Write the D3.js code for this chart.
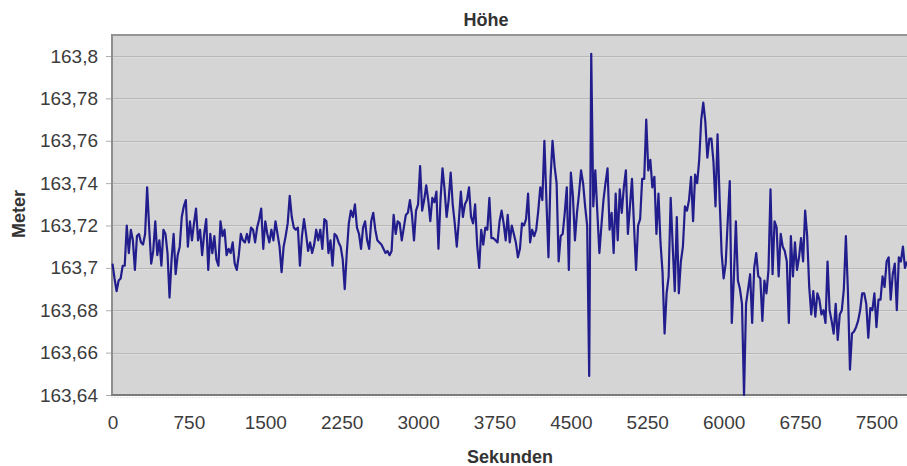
<!DOCTYPE html>
<html>
<head>
<meta charset="utf-8">
<script src="https://cdn.jsdelivr.net/npm/d3@7"></script>
<style>
  body { margin: 0; background: #fff; }
  svg { display: block; font-family: "Liberation Sans", Arial, sans-serif; }
</style>
</head>
<body>
<svg width="907" height="466"></svg>
<script>
const intervall = 20;
const hoehe = [
  163.702,163.695,163.689,163.694,163.695,163.701,163.701,163.720,163.707,163.718,
  163.713,163.699,163.715,163.716,163.712,163.711,163.716,163.738,163.719,163.702,
  163.708,163.722,163.706,163.713,163.701,163.718,163.716,163.707,163.686,163.704,
  163.716,163.697,163.706,163.710,163.724,163.729,163.732,163.710,163.722,163.713,
  163.721,163.728,163.713,163.718,163.706,163.716,163.723,163.699,163.716,163.707,
  163.715,163.704,163.701,163.722,163.715,163.718,163.706,163.709,163.707,163.712,
  163.702,163.699,163.706,163.716,163.713,
  163.712,163.716,163.712,163.719,163.718,163.712,163.719,163.723,163.728,163.709,
  163.722,163.716,163.712,163.718,163.713,163.722,163.716,163.710,163.698,163.710,
  163.715,163.721,163.734,163.724,163.719,163.718,163.719,163.701,163.715,163.723,
  163.716,163.708,163.712,163.707,163.711,163.718,163.713,163.718,163.709,163.723,
  163.722,163.707,163.713,163.701,163.716,163.715,163.712,163.710,163.704,163.690,
  163.707,163.721,163.727,163.724,163.730,163.719,163.716,163.709,163.719,163.722,
  163.713,163.709,163.722,163.726,163.718,
  163.713,163.712,163.711,163.709,163.707,163.708,163.706,163.708,163.725,163.716,
  163.722,163.721,163.713,163.719,163.725,163.726,163.732,163.725,163.713,163.727,
  163.730,163.748,163.727,163.732,163.739,163.732,163.722,163.733,163.731,163.736,
  163.709,163.732,163.747,163.737,163.724,163.732,163.745,163.730,163.721,163.710,
  163.722,163.736,163.724,163.730,163.732,163.738,163.724,163.721,163.730,163.711,
  163.700,163.718,163.711,163.719,163.718,163.733,163.714,163.714,163.713,163.712,
  163.722,163.727,163.721,163.713,163.725,
  163.712,163.720,163.716,163.712,163.705,163.709,163.721,163.720,163.723,163.735,
  163.712,163.718,163.715,163.718,163.727,163.738,163.732,163.760,163.732,163.705,
  163.742,163.760,163.748,163.740,163.703,163.715,163.716,163.726,163.738,163.699,
  163.745,163.734,163.713,163.726,163.735,163.746,163.740,163.729,163.720,163.649,
  163.801,163.729,163.746,163.726,163.707,163.720,163.732,163.740,163.747,163.718,
  163.726,163.707,163.735,163.713,163.737,163.726,163.738,163.746,163.716,163.729,
  163.742,163.720,163.699,163.720,163.723,
  163.742,163.742,163.770,163.746,163.751,163.738,163.743,163.716,163.735,163.712,
  163.698,163.669,163.688,163.696,163.733,163.710,163.689,163.724,163.688,163.703,
  163.710,163.729,163.727,163.732,163.743,163.722,163.744,163.740,163.751,163.770,
  163.778,163.769,163.752,163.761,163.761,163.750,163.729,163.763,163.733,163.707,
  163.695,163.702,163.722,163.741,163.674,163.695,163.722,163.694,163.690,163.683,
  163.640,163.683,163.690,163.697,163.674,163.700,163.707,163.696,163.695,163.675,
  163.694,163.688,163.699,163.737,
  163.697,163.722,163.719,163.696,163.716,163.710,163.708,163.703,163.674,163.715,
  163.696,163.712,163.699,163.705,163.714,163.703,163.727,163.715,163.691,163.678,
  163.689,163.677,163.688,163.685,163.678,163.680,163.674,163.703,163.680,163.675,
  163.669,163.683,163.666,163.678,163.680,163.690,163.715,163.689,163.652,163.669,
  163.670,163.672,163.675,163.680,163.688,163.688,163.683,163.667,163.681,163.680,
  163.688,163.672,163.685,163.685,163.696,163.691,163.703,163.705,163.685,163.697,
  163.702,163.680,163.705,163.703,163.710,163.700,163.703
];
const xTicks = [0, 750, 1500, 2250, 3000, 3750, 4500, 5250, 6000, 6750, 7500];
const yTicks = [163.64, 163.66, 163.68, 163.7, 163.72, 163.74, 163.76, 163.78, 163.8];
const titel = 'Höhe';
const xTitel = 'Sekunden';
const yTitel = 'Meter';

const svg = d3.select('svg');
const plot = { left: 111, right: 907, top: 34, bottom: 395 };

const x = d3.scaleLinear().domain([0, 7800]).range([112.5, 907]);
const y = d3.scaleLinear().domain([163.64, 163.81]).range([plot.bottom, plot.top + 0.8]);
const fmt = d => String(+d.toFixed(2)).replace('.', ',');

// Hintergrund der Zeichenfläche
svg.append('rect')
  .attr('x', plot.left).attr('y', plot.top)
  .attr('width', plot.right - plot.left).attr('height', plot.bottom - plot.top)
  .attr('fill', '#d5d5d5');

// Gitterlinien
svg.append('g').selectAll('line')
  .data(yTicks.slice(1))
  .join('line')
  .attr('x1', plot.left).attr('x2', plot.right)
  .attr('y1', d => Math.round(y(d)) + 0.5).attr('y2', d => Math.round(y(d)) + 0.5)
  .attr('stroke', '#b8b8b8');
svg.append('g').selectAll('line')
  .data(yTicks.slice(1))
  .join('line')
  .attr('x1', plot.left).attr('x2', plot.right)
  .attr('y1', d => Math.round(y(d)) + 1.5).attr('y2', d => Math.round(y(d)) + 1.5)
  .attr('stroke', '#dedede');

// Rahmen
svg.append('line').attr('x1', plot.left).attr('x2', plot.right)
  .attr('y1', plot.top + 1).attr('y2', plot.top + 1)
  .attr('stroke', '#959595').attr('stroke-width', 2);
svg.append('line').attr('x1', plot.left + 1).attr('x2', plot.left + 1)
  .attr('y1', plot.top).attr('y2', plot.bottom)
  .attr('stroke', '#8e8e8e').attr('stroke-width', 2);
svg.append('line').attr('x1', plot.left).attr('x2', plot.right)
  .attr('y1', plot.bottom).attr('y2', plot.bottom)
  .attr('stroke', '#7b7b7b').attr('stroke-width', 2);
svg.append('line').attr('x1', plot.left).attr('x2', plot.right)
  .attr('y1', plot.bottom + 2.5).attr('y2', plot.bottom + 2.5)
  .attr('stroke', '#e4e4e4').attr('stroke-dasharray', '2,1');

// Datenlinie
svg.append('clipPath').attr('id', 'clip')
  .append('rect')
  .attr('x', plot.left).attr('y', plot.top - 2)
  .attr('width', plot.right - plot.left).attr('height', plot.bottom - plot.top + 4);

const line = d3.line()
  .x((d, i) => x(i * intervall))
  .y(d => y(d));

svg.append('path')
  .datum(hoehe)
  .attr('clip-path', 'url(#clip)')
  .attr('d', line)
  .attr('fill', 'none')
  .attr('stroke', '#221d8c')
  .attr('stroke-width', 2.2)
  .attr('stroke-linejoin', 'round');

// Achsen
const yAxis = svg.append('g')
  .attr('transform', `translate(${plot.left},0)`)
  .call(d3.axisLeft(y).tickValues(yTicks).tickFormat(fmt).tickSize(5).tickPadding(8));
yAxis.select('.domain').remove();
yAxis.selectAll('line').attr('stroke', '#b0b0b0');
yAxis.selectAll('text')
  .attr('font-size', 19).attr('fill', '#3c3c3c')
  .attr('font-family', '"Liberation Sans", Arial, sans-serif');

const xAxis = svg.append('g')
  .attr('transform', `translate(0,${plot.bottom})`)
  .call(d3.axisBottom(x).tickValues(xTicks).tickFormat(d3.format('d')).tickSize(0).tickPadding(21));
xAxis.select('.domain').remove();
xAxis.selectAll('text')
  .attr('font-size', 19).attr('fill', '#3c3c3c')
  .attr('font-family', '"Liberation Sans", Arial, sans-serif');

// Beschriftungen
svg.append('text')
  .attr('x', 486).attr('y', 26)
  .attr('text-anchor', 'middle')
  .attr('font-size', 18).attr('font-weight', 'bold').attr('fill', '#333')
  .text(titel);

svg.append('text')
  .attr('x', 510).attr('y', 463)
  .attr('text-anchor', 'middle')
  .attr('font-size', 18).attr('font-weight', 'bold').attr('fill', '#333')
  .text(xTitel);

svg.append('text')
  .attr('transform', 'translate(25,214) rotate(-90)')
  .attr('text-anchor', 'middle')
  .attr('font-size', 18).attr('font-weight', 'bold').attr('fill', '#333')
  .text(yTitel);
</script>
</body>
</html>
